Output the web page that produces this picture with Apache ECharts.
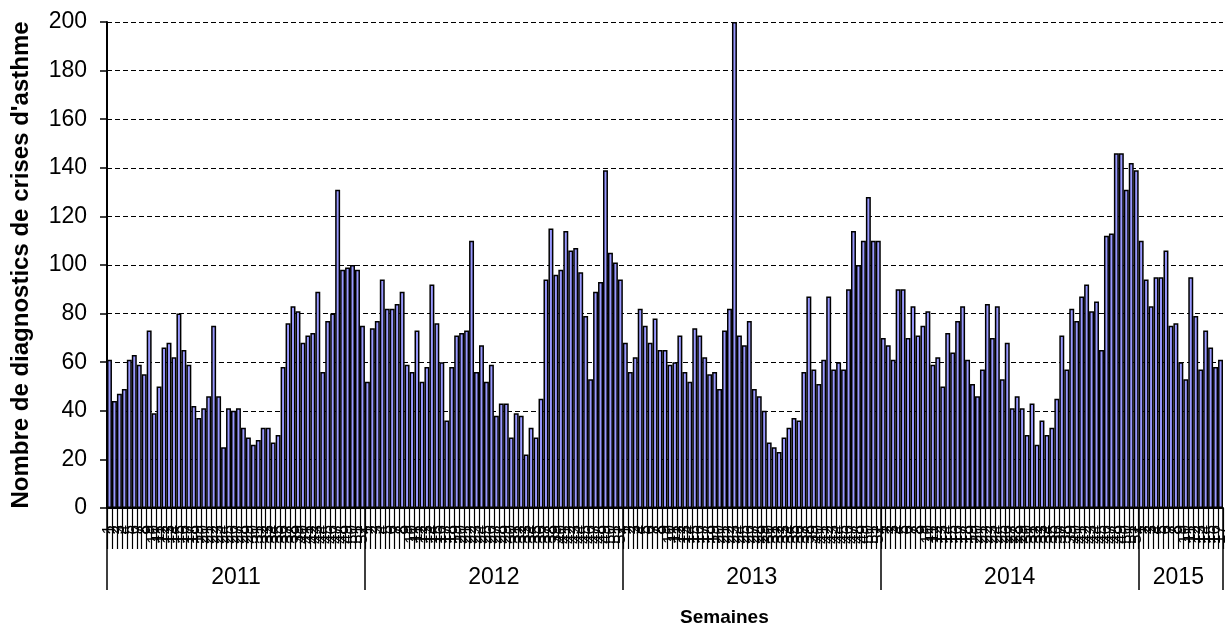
<!DOCTYPE html>
<html>
<head>
<meta charset="utf-8">
<script src="https://cdn.jsdelivr.net/npm/echarts@6/dist/echarts.min.js"></script>
<style>
  html, body { margin: 0; padding: 0; background: #fff; }
  #chart { width: 1229px; height: 628px; }
</style>
</head>
<body>
<div id="chart"></div>
<script>
// Weekly counts of asthma attack diagnoses, one array per year
const years = ['2011', '2012', '2013', '2014', '2015'];

const cases2011 = [61, 44, 47, 49, 61, 63, 59, 55, 73, 39, 50, 66, 68, 62, 80, 65, 59, 42, 37, 41,
  46, 75, 46, 25, 41, 40, 41, 33, 29, 26, 28, 33, 33, 27, 30, 58, 76, 83, 81, 68,
  71, 72, 89, 56, 77, 80, 131, 98, 99, 100, 98, 75];
const cases2012 = [52, 74, 77, 94, 82, 82, 84, 89, 59, 56, 73, 52, 58, 92, 76, 60, 36, 58, 71, 72,
  73, 110, 56, 67, 52, 59, 38, 43, 43, 29, 39, 38, 22, 33, 29, 45, 94, 115, 96, 98,
  114, 106, 107, 97, 79, 53, 89, 93, 139, 105, 101, 94];
const cases2013 = [68, 56, 62, 82, 75, 68, 78, 65, 65, 59, 60, 71, 56, 52, 74, 71, 62, 55, 56, 49,
  73, 82, 200, 71, 67, 77, 49, 46, 40, 27, 25, 23, 29, 33, 37, 36, 56, 87, 57, 51,
  61, 87, 57, 60, 57, 90, 114, 100, 110, 128, 110, 110];
const cases2014 = [70, 67, 61, 90, 90, 70, 83, 71, 75, 81, 59, 62, 50, 72, 64, 77, 83, 61, 51, 46,
  57, 84, 70, 83, 53, 68, 41, 46, 41, 30, 43, 26, 36, 30, 33, 45, 71, 57, 82, 77,
  87, 92, 81, 85, 65, 112, 113, 146, 146, 131, 142, 139];
const cases2015 = [110, 94, 83, 95, 95, 106, 75, 76, 60, 53, 95, 79, 57, 73, 66, 58, 61];

const yTicks = [0, 20, 40, 60, 80, 100, 120, 140, 160, 180, 200];

const casesByYear = [cases2011, cases2012, cases2013, cases2014, cases2015];

// Two-level category axis: week number inside each year
const weekLabels = [];
const yearOfWeek = [];
const values = [];
const yearStarts = [];
const yearMiddles = [];
casesByYear.forEach((arr, k) => {
  yearStarts.push(values.length);
  yearMiddles.push(values.length + Math.floor(arr.length / 2));
  arr.forEach((v, i) => {
    weekLabels.push(String(i + 1));
    yearOfWeek.push(years[k]);
    values.push(v);
  });
});

const FONT = 'Liberation Sans, Arial, sans-serif';
const chart = echarts.init(document.getElementById('chart'), null, { renderer: 'canvas' });

chart.setOption({
  animation: false,
  backgroundColor: '#ffffff',
  grid: { left: 107, top: 22, width: 1127, height: 486, containLabel: false },
  xAxis: [
    {
      type: 'category',
      data: weekLabels,
      boundaryGap: true,
      axisLine: { show: true, lineStyle: { color: '#000', width: 2 } },
      axisTick: { show: true, interval: 0, length: 41, lineStyle: { color: '#000', width: 1.2 } },
      axisLabel: {
        interval: 0, rotate: 90, margin: 17, hideOverlap: false,
        fontFamily: FONT, fontSize: 17, color: '#000'
      },
      splitLine: { show: false }
    },
    {
      type: 'category',
      data: yearOfWeek,
      position: 'bottom',
      boundaryGap: true,
      axisLine: { show: false },
      axisTick: {
        show: true, length: 82,
        interval: (idx) => yearStarts.indexOf(idx) >= 0,
        lineStyle: { color: '#000', width: 1.5 }
      },
      axisLabel: {
        interval: (idx) => yearMiddles.indexOf(idx) >= 0,
        margin: 58, padding: [0, 5, 0, 0],
        fontFamily: FONT, fontSize: 23, color: '#000'
      },
      splitLine: { show: false }
    }
  ],
  yAxis: {
    type: 'value',
    min: yTicks[0],
    max: yTicks[yTicks.length - 1],
    interval: 20,
    name: "Nombre de diagnostics de crises d'asthme",
    nameLocation: 'middle',
    nameRotate: 90,
    nameGap: 74,
    nameTextStyle: { fontFamily: FONT, fontSize: 24, fontWeight: 'bold', color: '#000' },
    axisLine: { show: true, lineStyle: { color: '#000', width: 2 } },
    axisTick: { show: true, length: 7, lineStyle: { color: '#000', width: 1.5 } },
    axisLabel: { margin: 20, fontFamily: FONT, fontSize: 23, color: '#000' },
    splitLine: { show: true, lineStyle: { color: '#000', width: 1, type: [5, 3] } }
  },
  graphic: [
    {
      type: 'text', left: 680, top: 608,
      style: { text: 'Semaines', font: 'bold 19px ' + FONT, fill: '#000' }
    }
  ],
  series: [
    {
      type: 'bar',
      xAxisIndex: 0,
      data: values,
      barCategoryGap: '0%',
      itemStyle: { color: '#9999FF', borderColor: '#000', borderWidth: 1.5 }
    }
  ]
});
</script>
</body>
</html>
